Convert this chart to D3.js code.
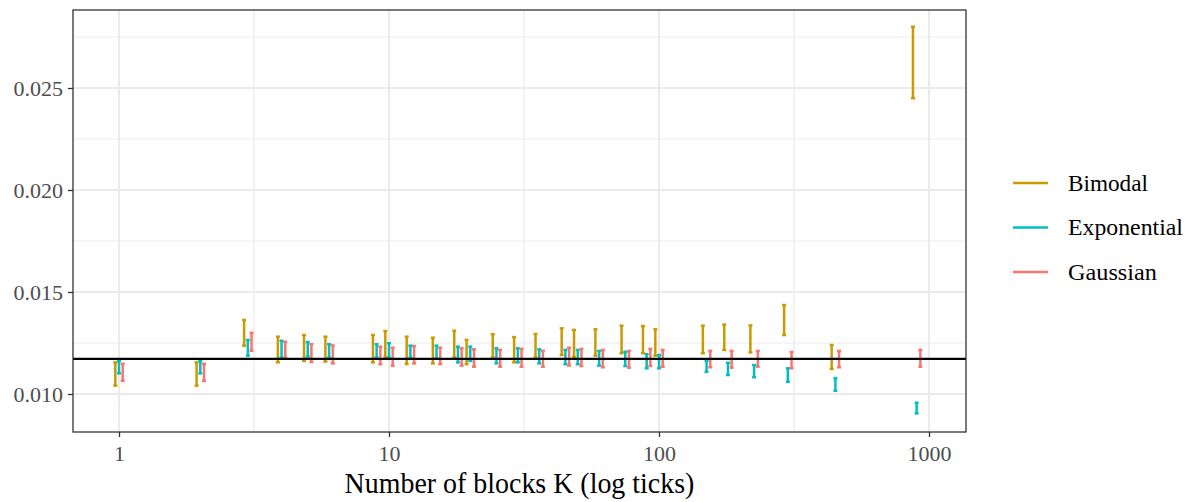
<!DOCTYPE html>
<html><head><meta charset="utf-8">
<script src="https://cdn.jsdelivr.net/npm/d3@7"></script>
<style>
body{margin:0;background:#fff;}
text{font-family:"Liberation Serif","Times New Roman",serif;}
</style></head>
<body><svg id="c" width="1192" height="502"></svg>
<script>
const kValues = [1,2,3,4,5,6,9,10,12,15,18,20,25,30,36,45,50,60,75,90,100,150,180,225,300,450,900];
const seriesNames = ["Bimodal","Exponential","Gaussian"];
const seriesColors = ["#C99B00","#00BFC4","#F8766D"];
const bimodalLow  = [0.01041,0.01041,0.01237,0.01155,0.01162,0.01159,0.01155,0.01181,0.01147,0.01150,0.01180,0.01146,0.01180,0.01155,0.01181,0.01191,0.01181,0.01188,0.01200,0.01200,0.01188,0.01200,0.01216,0.01204,0.01289,0.01123,0.02450];
const bimodalHigh = [0.01155,0.01155,0.01363,0.01281,0.01289,0.01281,0.01289,0.01309,0.01281,0.01276,0.01310,0.01265,0.01293,0.01279,0.01294,0.01322,0.01314,0.01317,0.01335,0.01333,0.01317,0.01335,0.01340,0.01336,0.01436,0.01240,0.02800];
const expLow  = [0.01101,0.01101,0.01188,0.01178,0.01183,0.01178,0.01178,0.01178,0.01178,0.01175,0.01155,0.01162,0.01150,0.01155,0.01150,0.01146,0.01146,0.01139,0.01137,0.01126,0.01126,0.01109,0.01093,0.01082,0.01060,0.01016,0.00905];
const expHigh = [0.01162,0.01162,0.01265,0.01261,0.01255,0.01244,0.01244,0.01249,0.01237,0.01237,0.01232,0.01232,0.01224,0.01224,0.01219,0.01216,0.01216,0.01211,0.01207,0.01195,0.01191,0.01162,0.01153,0.01142,0.01126,0.01077,0.00957];
const gausLow  = [0.01065,0.01065,0.01212,0.01178,0.01157,0.01150,0.01146,0.01139,0.01150,0.01146,0.01139,0.01134,0.01134,0.01134,0.01134,0.01139,0.01137,0.01131,0.01129,0.01137,0.01134,0.01131,0.01129,0.01134,0.01126,0.01131,0.01134];
const gausHigh = [0.01148,0.01148,0.01300,0.01256,0.01244,0.01238,0.01232,0.01227,0.01235,0.01227,0.01224,0.01219,0.01216,0.01221,0.01212,0.01227,0.01221,0.01216,0.01211,0.01221,0.01216,0.01211,0.01211,0.01211,0.01206,0.01211,0.01216];
const refValue = 0.01172;
const xTicks = [1,10,100,1000];
const xMinor = [Math.sqrt(10),Math.sqrt(1000),Math.sqrt(100000)];
const yTicks = [0.010,0.015,0.020,0.025];
const yMinor = [0.0125,0.0175,0.0225,0.0275];
const xTitle = "Number of blocks K (log ticks)";

const svg = d3.select("#c");
const L=73,R=966,T=10,B=432;
const x = d3.scaleLog().domain([0.6755,1370.9]).range([L,R]);
const y = d3.scaleLinear().domain([0.008137,0.028824]).range([B,T]);

// horizontally condense a text element to a target width around its x anchor
function condense(sel, targetW){
  sel.each(function(){
    const t=d3.select(this);
    const w=this.getComputedTextLength();
    if(!w || !targetW) return;
    const s=targetW/w;
    const ax=+t.attr("x")||0;
    t.attr("transform",`translate(${ax},0) scale(${s},1) translate(${-ax},0)`);
  });
}

svg.append("rect").attr("x",L).attr("y",T).attr("width",R-L).attr("height",B-T).attr("fill","#fff");
const g = svg.append("g");
g.selectAll(".ymin").data(yMinor).join("line").attr("x1",L).attr("x2",R).attr("y1",d=>y(d)).attr("y2",d=>y(d)).attr("stroke","#ebebeb").attr("stroke-width",1.2);
g.selectAll(".xmin").data(xMinor).join("line").attr("y1",T).attr("y2",B).attr("x1",d=>x(d)).attr("x2",d=>x(d)).attr("stroke","#ebebeb").attr("stroke-width",1.2);
g.selectAll(".ymaj").data(yTicks).join("line").attr("x1",L).attr("x2",R).attr("y1",d=>y(d)).attr("y2",d=>y(d)).attr("stroke","#ebebeb").attr("stroke-width",2);
g.selectAll(".xmaj").data(xTicks).join("line").attr("y1",T).attr("y2",B).attr("x1",d=>x(d)).attr("x2",d=>x(d)).attr("stroke","#ebebeb").attr("stroke-width",2);

const series = [
  {lo:bimodalLow,hi:bimodalHigh,off:-3.7},
  {lo:expLow,hi:expHigh,off:0},
  {lo:gausLow,hi:gausHigh,off:3.7}
];
series.forEach((s,i)=>{
  const data = kValues.map((k,j)=>({k,lo:s.lo[j],hi:s.hi[j]}));
  const sg = svg.append("g").attr("stroke",seriesColors[i]).attr("stroke-width",2.5).attr("fill","none");
  const eg = sg.selectAll("g").data(data).join("g");
  eg.append("line").attr("x1",d=>x(d.k)+s.off).attr("x2",d=>x(d.k)+s.off).attr("y1",d=>y(d.lo)).attr("y2",d=>y(d.hi));
  eg.append("line").attr("x1",d=>x(d.k)+s.off-2).attr("x2",d=>x(d.k)+s.off+2).attr("y1",d=>y(d.lo)).attr("y2",d=>y(d.lo));
  eg.append("line").attr("x1",d=>x(d.k)+s.off-2).attr("x2",d=>x(d.k)+s.off+2).attr("y1",d=>y(d.hi)).attr("y2",d=>y(d.hi));
});
svg.append("line").attr("x1",L).attr("x2",R).attr("y1",y(refValue)).attr("y2",y(refValue)).attr("stroke","#000").attr("stroke-width",2.4);

svg.append("rect").attr("x",L).attr("y",T).attr("width",R-L).attr("height",B-T).attr("fill","none").attr("stroke","#333").attr("stroke-width",1.3);

// axes
const xa = svg.append("g").attr("transform",`translate(0,${B})`).call(d3.axisBottom(x).tickValues(xTicks).tickFormat(d3.format("d")).tickSizeOuter(0).tickSize(5).tickPadding(4));
const ya = svg.append("g").attr("transform",`translate(${L},0)`).call(d3.axisLeft(y).tickValues(yTicks).tickFormat(d3.format(".3f")).tickSizeOuter(0).tickSize(5).tickPadding(5));
[xa,ya].forEach(a=>{
  a.select(".domain").remove();
  a.selectAll(".tick line").attr("stroke","#333").attr("stroke-width",1.3);
  a.selectAll(".tick text").attr("fill","#4d4d4d").style("font-size","22px");
});
xa.selectAll(".tick text").attr("dy",null).attr("y",29);
ya.selectAll(".tick text").attr("dy","0.33em");

// title
const t = svg.append("text").attr("x",(L+R)/2).attr("y",493).attr("text-anchor","middle").attr("fill","#000").style("font-size","30px").text(xTitle);
condense(t, 350);

// legend
const lg = svg.append("g");
const legendWidths=[80,115,89];
seriesNames.forEach((n,i)=>{
  const yy = 183 + i*44.5;
  lg.append("line").attr("x1",1013).attr("x2",1048).attr("y1",yy).attr("y2",yy).attr("stroke",seriesColors[i]).attr("stroke-width",2.4);
  const tx = lg.append("text").attr("x",1068).attr("y",yy).attr("dy","0.33em").attr("fill","#000").style("font-size","23px").text(n);
  condense(tx, legendWidths[i]);
});
</script></body></html>
